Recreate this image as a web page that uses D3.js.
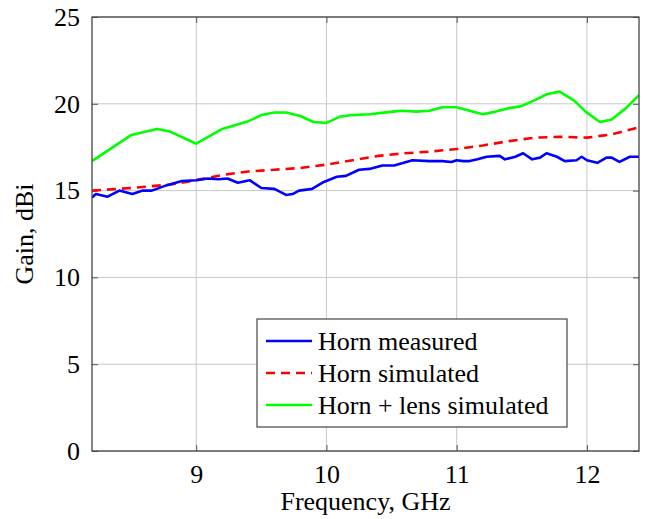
<!DOCTYPE html>
<html><head><meta charset="utf-8">
<script src="https://cdn.jsdelivr.net/npm/d3@7"></script>
<style>body{margin:0;background:#fff}svg{display:block}text{font-family:"Liberation Serif","Times New Roman",serif;fill:#000}</style>
</head><body><svg id="c" width="646" height="519"></svg>
<script>
const xTicks = [9, 10, 11, 12];
const yTicks = [0, 5, 10, 15, 20, 25];

const measuredF = [8.2,8.23,8.32,8.41,8.51,8.59,8.66,8.77,8.89,9.0,9.09,9.17,9.24,9.32,9.41,9.5,9.6,9.69,9.74,9.79,9.89,9.98,10.08,10.15,10.25,10.33,10.43,10.52,10.66,10.79,10.89,10.96,11.0,11.05,11.1,11.16,11.23,11.33,11.37,11.45,11.51,11.58,11.64,11.69,11.77,11.83,11.92,11.96,12.0,12.08,12.15,12.19,12.25,12.33,12.4];
const measuredG = [14.6,14.8,14.65,15.0,14.8,15.0,15.0,15.3,15.55,15.6,15.7,15.65,15.7,15.45,15.6,15.15,15.1,14.75,14.8,15.0,15.1,15.5,15.8,15.85,16.2,16.25,16.45,16.45,16.75,16.7,16.7,16.65,16.75,16.7,16.7,16.8,16.95,17.0,16.8,16.95,17.15,16.8,16.9,17.15,16.95,16.7,16.75,16.95,16.75,16.6,16.9,16.9,16.65,16.95,16.95];

const simF = [8.2,8.5,8.8,9.0,9.2,9.4,9.6,9.8,10.0,10.2,10.4,10.6,10.8,11.0,11.2,11.4,11.6,11.8,12.0,12.2,12.4];
const simG = [15.0,15.15,15.35,15.6,15.9,16.1,16.2,16.3,16.5,16.75,17.0,17.15,17.25,17.4,17.6,17.85,18.05,18.1,18.05,18.25,18.65];

const lensF = [8.2,8.5,8.7,8.8,9.0,9.2,9.4,9.5,9.6,9.69,9.8,9.9,10.0,10.1,10.2,10.33,10.51,10.58,10.69,10.79,10.89,11.0,11.2,11.3,11.4,11.49,11.57,11.69,11.79,11.9,11.99,12.1,12.19,12.3,12.4];
const lensG = [16.7,18.2,18.55,18.4,17.7,18.55,19.0,19.35,19.5,19.5,19.3,18.95,18.9,19.25,19.35,19.4,19.55,19.6,19.55,19.6,19.8,19.8,19.4,19.55,19.75,19.85,20.1,20.55,20.7,20.2,19.55,18.95,19.1,19.75,20.5];

const seriesNames = ["Horn measured", "Horn simulated", "Horn + lens simulated"];
const seriesColors = ["#0000ff", "#ff0000", "#00ff00"];

const L = 92, R = 639, T = 17, B = 451;
const x = d3.scaleLinear().domain([8.2, 12.4]).range([L, R]);
const y = d3.scaleLinear().domain([0, 25]).range([B, T]);
const svg = d3.select("#c");

// grid
const g = svg.append("g");
g.selectAll(".gx").data(xTicks).join("line").attr("x1", d => x(d)).attr("x2", d => x(d)).attr("y1", T).attr("y2", B).attr("stroke", "#c8c8c8").attr("stroke-width", 1);
g.selectAll(".gy").data(yTicks).join("line").attr("y1", d => y(d)).attr("y2", d => y(d)).attr("x1", L).attr("x2", R).attr("stroke", "#c8c8c8").attr("stroke-width", 1);

// axes using d3 axis (inner ticks)
const ax = svg.append("g").attr("transform", `translate(0,${B})`).call(d3.axisBottom(x).tickValues(xTicks).tickSize(-6).tickPadding(14).tickFormat(d3.format("d")));
const ay = svg.append("g").attr("transform", `translate(${L},0)`).call(d3.axisLeft(y).tickValues(yTicks).tickSize(-6).tickPadding(12).tickFormat(d3.format("d")));
svg.append("g").attr("transform", `translate(0,${T})`).call(d3.axisTop(x).tickValues(xTicks).tickSize(-6).tickFormat(""));
svg.append("g").attr("transform", `translate(${R},0)`).call(d3.axisRight(y).tickValues(yTicks).tickSize(-6).tickFormat(""));
svg.selectAll(".domain").remove();
svg.selectAll(".tick line").attr("stroke", "#555");
svg.selectAll(".tick text").style("font-size", "26px").style("font-family", '"Liberation Serif",serif').attr("fill", "#000");

// lines
const clip = svg.append("clipPath").attr("id", "clp").append("rect").attr("x", L).attr("y", T).attr("width", R - L).attr("height", B - T);
const line = d3.line().x(d => x(d[0])).y(d => y(d[1]));
const data = [
  d3.zip(measuredF, measuredG),
  d3.zip(simF, simG),
  d3.zip(lensF, lensG)
];
const dashes = [null, "9,6", null];
const order = [2, 1, 0];
order.forEach(i => {
  svg.append("path").datum(data[i]).attr("d", line).attr("fill", "none")
    .attr("stroke", seriesColors[i]).attr("stroke-width", 2.6)
    .attr("stroke-dasharray", dashes[i]).attr("clip-path", "url(#clp)")
    .attr("stroke-linejoin", "round");
});

// frame
svg.append("rect").attr("x", L).attr("y", T).attr("width", R - L).attr("height", B - T).attr("fill", "none").attr("stroke", "#444").attr("stroke-width", 1.3);

// labels
svg.append("text").attr("x", (L + R) / 2).attr("y", 510).attr("text-anchor", "middle").style("font-size", "26px").text("Frequency, GHz");
svg.append("text").attr("transform", `translate(33,${(T + B) / 2}) rotate(-90)`).attr("text-anchor", "middle").style("font-size", "26px").text("Gain, dBi");

// legend
const lg = svg.append("g");
lg.append("rect").attr("x", 257).attr("y", 319).attr("width", 310).attr("height", 108).attr("fill", "#fff").attr("stroke", "#444").attr("stroke-width", 1.2);
seriesNames.forEach((n, i) => {
  const yy = 341 + i * 32;
  lg.append("line").attr("x1", 266).attr("x2", 312).attr("y1", yy).attr("y2", yy)
    .attr("stroke", seriesColors[i]).attr("stroke-width", 2.6).attr("stroke-dasharray", dashes[i]);
  lg.append("text").attr("x", 318).attr("y", yy + 9).style("font-size", "26px").text(n);
});
</script></body></html>
